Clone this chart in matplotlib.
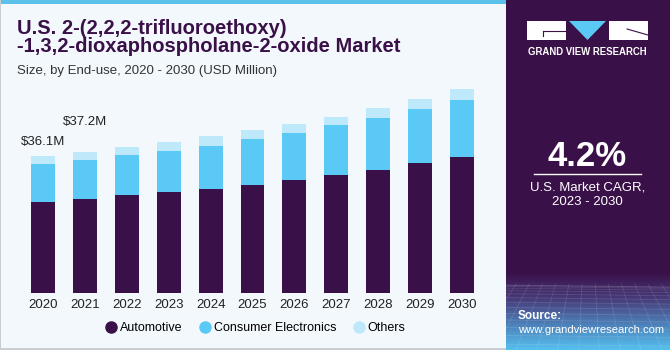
import matplotlib
matplotlib.use('agg')
import matplotlib.pyplot as plt
import numpy as np
from matplotlib.patches import Rectangle, Polygon
from matplotlib.lines import Line2D
from matplotlib.colors import LinearSegmentedColormap

plt.rcParams['font.family'] = ['Liberation Sans', 'DejaVu Sans']

# data (USD Million)
years = ['2020', '2021', '2022', '2023', '2024', '2025', '2026', '2027', '2028', '2029', '2030']
automotive = [23.9, 24.7, 25.7, 26.6, 27.4, 28.5, 29.8, 31.1, 32.5, 34.2, 35.8]
consumer_electronics = [10.2, 10.3, 10.7, 10.9, 11.4, 12.1, 12.4, 13.0, 13.6, 14.1, 15.0]
others = [2.0, 2.2, 2.1, 2.3, 2.5, 2.2, 2.4, 2.3, 2.6, 2.8, 2.8]
labels = {0: '$36.1M', 1: '$37.2M'}

PURPLE = '#3a1049'
BLUE = '#5bc9f5'
LIGHT = '#bde9fb'
BG = '#f3f8fc'
W, H = 670, 350

fig = plt.figure(figsize=(6.7, 3.5), dpi=100)
fig.patch.set_facecolor(BG)

# decoration layer in pixel coords
bg = fig.add_axes([0, 0, 1, 1], zorder=0)
bg.set_xlim(0, W)
bg.set_ylim(H, 0)
bg.axis('off')
bg.add_patch(Rectangle((0, 0), 506, 3.5, color='#5bc0ea', lw=0))
bg.add_patch(Rectangle((0, 0), 1, H, color='#c9cdd2', lw=0))
bg.add_patch(Rectangle((0, H - 2), 506, 2, color='#c9cdd2', lw=0))
bg.add_patch(Rectangle((506, 0), W - 506, H, color=PURPLE, lw=0))

# bottom gradient of the side panel
cmap = LinearSegmentedColormap.from_list('g', [PURPLE, '#463a78', '#4d7fb8', '#55bfee'])
grad = np.linspace(0, 1, 100).reshape(-1, 1)
bg.imshow(grad, extent=(506, W, H, 272), cmap=cmap, aspect='auto', zorder=1)
for k in range(14):
    yy = 285 + k * k * 0.35
    bg.plot([506, W], [yy, yy + 2], color='white', alpha=0.12, lw=0.6, zorder=2)
for k in range(16):
    xx = 506 + k * 11
    bg.plot([xx + (xx - 588) * 0.2, xx + (xx - 588) * 0.9], [284, H], color='white', alpha=0.12, lw=0.6, zorder=2)

# logo
bg.add_patch(Rectangle((527, 21), 39, 19, color='white', lw=0, zorder=3))
bg.add_patch(Polygon([(569, 21), (606, 21), (587.5, 40)], closed=True, color='#5bc9f5', lw=0, zorder=3))
bg.add_patch(Rectangle((609, 21), 39, 19, color='white', lw=0, zorder=3))
bg.plot([543, 566], [31, 31], color=PURPLE, lw=0.8, zorder=4)
bg.plot([543, 543], [31, 36], color=PURPLE, lw=0.8, zorder=4)
bg.plot([627, 648], [29, 35], color=PURPLE, lw=0.8, zorder=4)
bg.text(587.5, 52, 'GRAND VIEW RESEARCH', color='white', fontsize=6.9, fontweight='bold',
        ha='center', va='center', zorder=4)

bg.text(587.5, 157, '4.2%', color='white', fontsize=25, fontweight='bold', ha='center', va='center', zorder=4)
bg.plot([534, 641], [173.5, 173.5], color='white', lw=1, zorder=4)
bg.text(587.5, 188, 'U.S. Market CAGR,', color='white', fontsize=9.5, ha='center', va='center', zorder=4)
bg.text(587.5, 202, '2023 - 2030', color='white', fontsize=9.5, ha='center', va='center', zorder=4)
bg.text(518, 316, 'Source:', color='white', fontsize=8.5, fontweight='bold', ha='left', va='center', zorder=4)
bg.text(518, 330, 'www.grandviewresearch.com', color='white', fontsize=8.1, ha='left', va='center', zorder=4)

# title
bg.text(17, 28, 'U.S. 2-(2,2,2-trifluoroethoxy)', color=PURPLE, fontsize=14.5, fontweight='bold',
        ha='left', va='center')
bg.text(17, 47, '-1,3,2-dioxaphospholane-2-oxide Market', color=PURPLE, fontsize=14.5, fontweight='bold',
        ha='left', va='center')
bg.text(17, 71, 'Size, by End-use, 2020 - 2030 (USD Million)', color='#333333', fontsize=9.5,
        ha='left', va='center')

# chart
x = np.arange(len(years))
ax = fig.add_axes([15 / W, 1 - 293.3 / H, 475 / W, (293.3 - 60) / H], zorder=2)
ax.patch.set_alpha(0)
bw = 0.57
auto = np.array(automotive)
ce = np.array(consumer_electronics)
oth = np.array(others)
ax.bar(x, auto, bw, color=PURPLE, label='Automotive')
ax.bar(x, ce, bw, bottom=auto, color=BLUE, label='Consumer Electronics')
ax.bar(x, oth, bw, bottom=auto + ce, color=LIGHT, label='Others')
ax.set_xlim(-0.668, 10.668)
ax.set_ylim(0, 61.3)
ax.set_xticks(x)
ax.set_xticklabels(years, fontsize=9.5, color='#222222')
ax.tick_params(axis='x', length=0, pad=4)
ax.set_yticks([])
for s in ax.spines.values():
    s.set_visible(False)

totals = auto + ce + oth
offsets = {0: 6, 1: 17}
for i, t in labels.items():
    ax.annotate(t, (x[i], totals[i]), xytext=(0, offsets[i]), textcoords='offset points',
                ha='center', va='bottom', fontsize=9.5, color='#222222')

handles = [Line2D([], [], marker='o', ls='', ms=8, color=c) for c in (PURPLE, BLUE, LIGHT)]
fig.legend(handles, ['Automotive', 'Consumer Electronics', 'Others'], loc='center',
           bbox_to_anchor=(255 / W, 1 - 328 / H), ncol=3, frameon=False, fontsize=9,
           handletextpad=0.2, columnspacing=1.3, handlelength=1.0)

fig.savefig('out.png', dpi=100, facecolor=fig.get_facecolor())
